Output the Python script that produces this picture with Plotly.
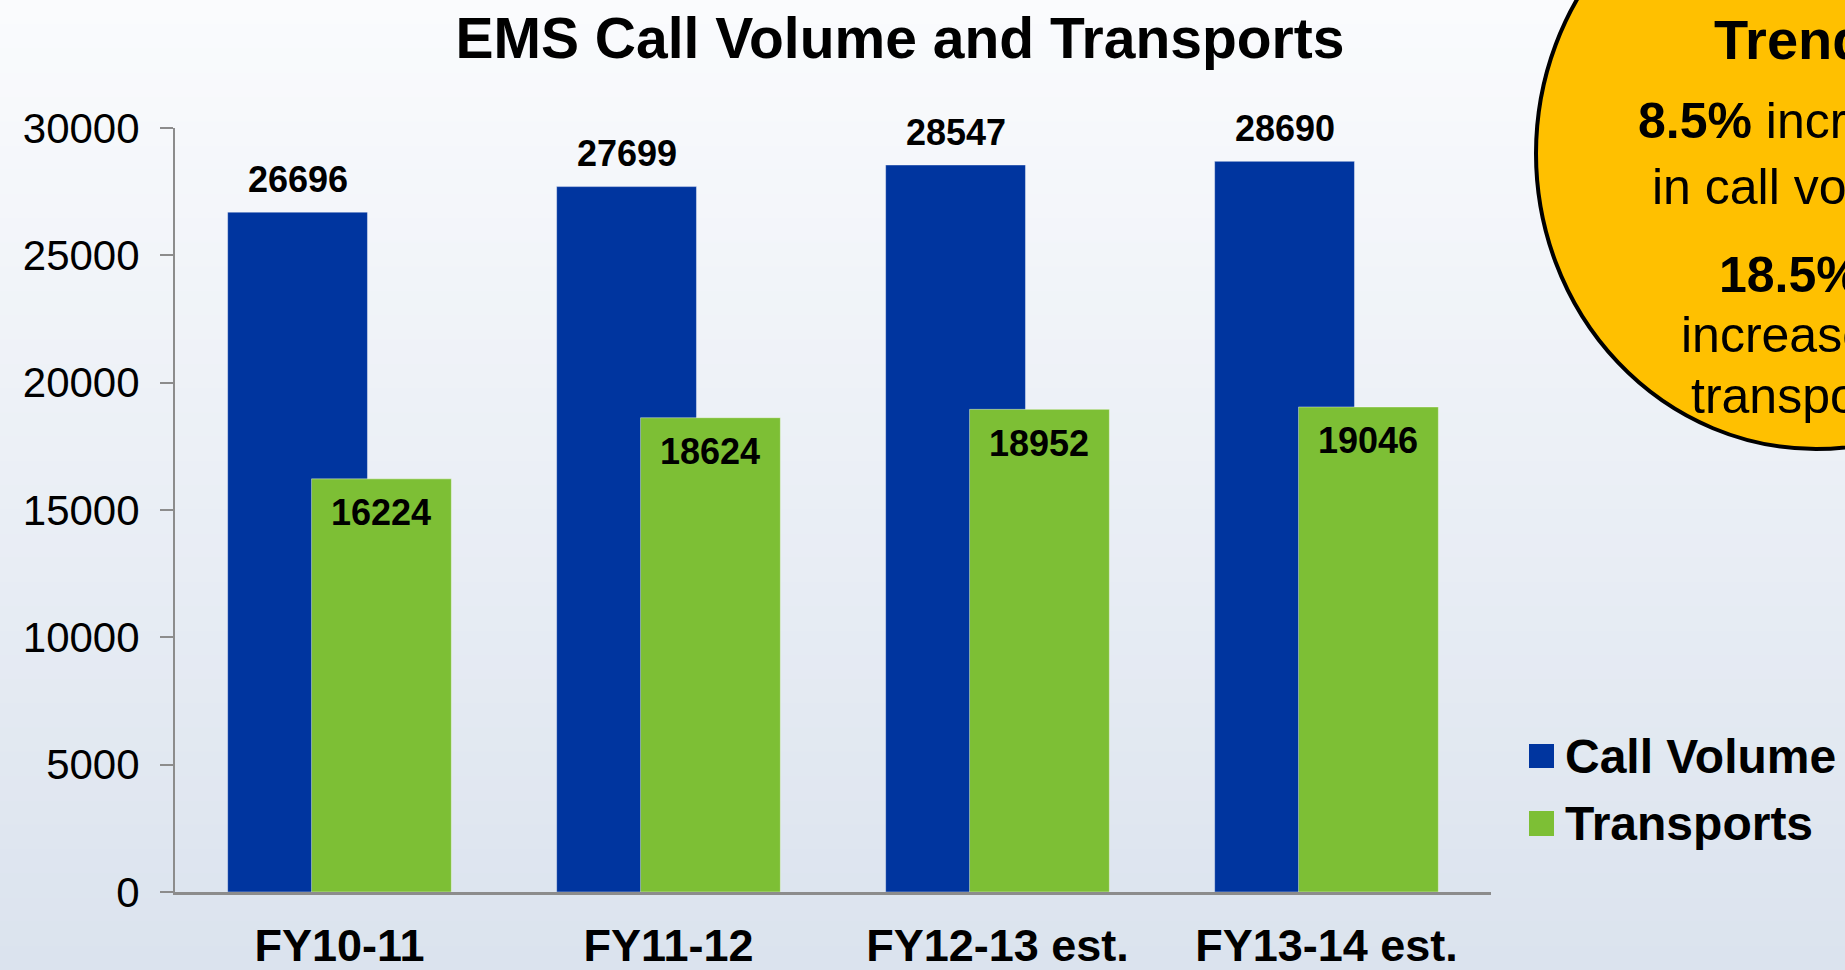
import plotly.graph_objects as go

# data
categories = ["FY10-11", "FY11-12", "FY12-13 est.", "FY13-14 est."]
call_volume = [26696, 27699, 28547, 28690]
transports = [16224, 18624, 18952, 19046]
y_ticks = [0, 5000, 10000, 15000, 20000, 25000, 30000]

trend_title = "Trends"
trend_lines = ["<b>8.5%</b> increase", "in call volume", "<b>18.5%</b>", "increase in", "transports"]

FONT = "Liberation Sans, Arial, sans-serif"
BLUE = "#00359f"
GREEN = "#7dbf35"
GOLD = "#ffc000"
AXIS = "#8c8c8c"

W, H = 1845, 970
L, R, T, B = 175, 1491, 128, 892   # plot area in pixels


def px_x(p):
    return (p - L) / (R - L)


def px_y(p):
    return (B - p) / (B - T)


BAR_W = 0.425
OFF_CALL = -0.34
OFF_TRANS = -0.085

fig = go.Figure()
fig.add_trace(go.Bar(
    x=categories, y=call_volume, name="Call Volume",
    width=BAR_W, offset=OFF_CALL,
    marker=dict(color=BLUE, line=dict(color="rgba(255,255,255,0.4)", width=1)),
))
fig.add_trace(go.Bar(
    x=categories, y=transports, name="Transports",
    width=BAR_W, offset=OFF_TRANS,
    marker=dict(color=GREEN, line=dict(color="rgba(255,255,255,0.4)", width=1)),
))

# background gradient, top to bottom
shapes = []
top_c = (250, 251, 253)
bot_c = (219, 227, 238)
N = 40
for k in range(N):
    t = k / (N - 1)
    c = tuple(round(top_c[j] + (bot_c[j] - top_c[j]) * t) for j in range(3))
    shapes.append(dict(
        type="rect", xref="paper", yref="paper", layer="below",
        x0=px_x(0), x1=px_x(W), y0=px_y(H * k / N), y1=px_y(H * (k + 1) / N + 1),
        fillcolor="rgb(%d,%d,%d)" % c, line=dict(width=0),
    ))

# the gold "Trends" circle, cut by the right edge
shapes.append(dict(
    type="circle", xref="paper", yref="paper", layer="above",
    x0=px_x(1536), x1=px_x(2096), y0=px_y(449), y1=px_y(-142),
    fillcolor=GOLD, line=dict(color="black", width=4),
))

annotations = []

# value labels
for i, v in enumerate(call_volume):
    annotations.append(dict(
        x=i + OFF_CALL + BAR_W / 2, y=v, xref="x", yref="y",
        text="<b>%d</b>" % v, showarrow=False, yanchor="middle", yshift=33,
        font=dict(family=FONT, size=36, color="black"),
    ))
for i, v in enumerate(transports):
    annotations.append(dict(
        x=i + OFF_TRANS + BAR_W / 2, y=v, xref="x", yref="y",
        text="<b>%d</b>" % v, showarrow=False, yanchor="middle", yshift=-34,
        font=dict(family=FONT, size=36, color="black"),
    ))

# text inside the circle
annotations.append(dict(
    x=px_x(1712), y=px_y(40), xref="paper", yref="paper", xanchor="left", yanchor="middle",
    text="<b>%s</b>" % trend_title, showarrow=False,
    font=dict(family=FONT, size=56, color="black"),
))
line_pos = [(1636, 121), (1650, 187), (1717, 275), (1679, 335), (1689, 396)]
for txt, (lx, ly) in zip(trend_lines, line_pos):
    annotations.append(dict(
        x=px_x(lx), y=px_y(ly), xref="paper", yref="paper", xanchor="left", yanchor="middle",
        text=txt, showarrow=False,
        font=dict(family=FONT, size=50, color="black"),
    ))

# legend drawn by hand so the swatches can be large
for tr, (sy0, sy1) in zip(fig.data, [(744, 768), (811, 836)]):
    shapes.append(dict(
        type="rect", xref="paper", yref="paper", layer="above",
        x0=px_x(1529), x1=px_x(1554), y0=px_y(sy1), y1=px_y(sy0),
        fillcolor=tr.marker.color, line=dict(width=0),
    ))
    annotations.append(dict(
        x=px_x(1563), y=px_y((sy0 + sy1) / 2), xref="paper", yref="paper",
        xanchor="left", yanchor="middle", text="<b>%s</b>" % tr.name, showarrow=False,
        font=dict(family=FONT, size=48, color="black"),
    ))

fig.update_layout(
    width=W, height=H,
    margin=dict(l=L, r=W - R, t=T, b=H - B, pad=0, autoexpand=False),
    barmode="overlay",
    showlegend=False,
    paper_bgcolor="rgb(250,251,253)",
    plot_bgcolor="rgba(0,0,0,0)",
    title=dict(
        text="EMS Call Volume and Transports",
        x=900 / W, xanchor="center", y=1 - 38 / H, yanchor="middle",
        font=dict(family=FONT, size=57, color="black", weight="bold"),
    ),
    xaxis=dict(
        showline=True, linecolor=AXIS, linewidth=2.5, ticks="",
        showgrid=False, zeroline=False, range=[-0.5, 3.5], automargin=False,
        tickfont=dict(family=FONT, size=45, color="black", weight="bold"),
        ticklabelstandoff=12,
    ),
    yaxis=dict(
        range=[0, 30000], tickvals=y_ticks, ticktext=[str(v) for v in y_ticks],
        showline=True, linecolor=AXIS, linewidth=2, automargin=False,
        ticks="outside", ticklen=13, tickwidth=2, tickcolor=AXIS,
        showgrid=False, zeroline=False,
        tickfont=dict(family=FONT, size=42, color="black"),
        ticklabelstandoff=12,
    ),
    shapes=shapes,
    annotations=annotations,
)

# drop the browser's default body margin so the figure fills the window
fig.write_html("out.html", config={"displayModeBar": False},
               post_script="document.body.style.margin='0';")
